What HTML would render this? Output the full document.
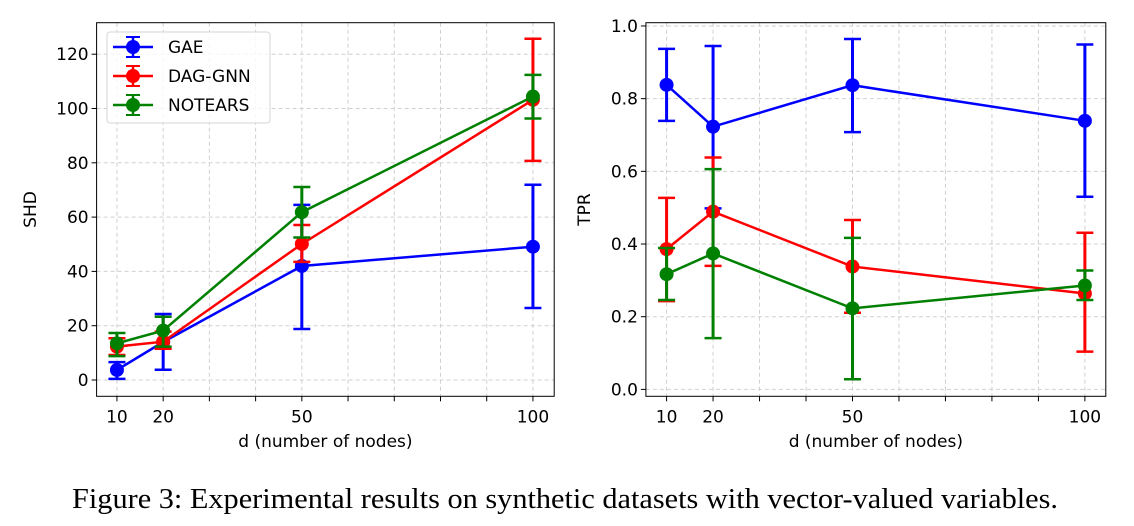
<!DOCTYPE html>
<html><head><meta charset="utf-8"><style>
html,body{margin:0;padding:0;background:#fff;}
svg{display:block;font-family:"DejaVu Sans","Liberation Sans",sans-serif;}
</style></head><body>
<svg id="fig" width="1134" height="526" viewBox="0 0 1134 526" xmlns="http://www.w3.org/2000/svg">
<text x="72" y="508" font-family="Liberation Serif, serif" font-size="28" textLength="986" lengthAdjust="spacingAndGlyphs">Figure 3: Experimental results on synthetic datasets with vector-valued variables.</text>
</svg>
<script>
const categories = [10, 20, 50, 100];
const seriesNames = ["GAE", "DAG-GNN", "NOTEARS"];
const shdGAE = [3.7, 14, 42, 49.1];
const shdGAELo = [0.4, 3.8, 18.8, 26.5];
const shdGAEHi = [6.6, 24.3, 64.5, 71.9];
const shdDAG = [12.3, 14.1, 50.1, 103.2];
const shdDAGLo = [9.2, 11.5, 43.5, 80.7];
const shdDAGHi = [15.4, 17.8, 57.1, 125.7];
const shdNT = [13.5, 18.2, 61.8, 104.4];
const shdNTLo = [8.8, 12.3, 52.5, 96.3];
const shdNTHi = [17.3, 23.3, 71.1, 112.4];
const tprGAE = [0.838, 0.723, 0.837, 0.739];
const tprGAELo = [0.739, 0.498, 0.708, 0.530];
const tprGAEHi = [0.937, 0.945, 0.964, 0.949];
const tprDAG = [0.386, 0.489, 0.338, 0.264];
const tprDAGLo = [0.243, 0.340, 0.211, 0.104];
const tprDAGHi = [0.527, 0.638, 0.466, 0.431];
const tprNT = [0.317, 0.374, 0.223, 0.286];
const tprNTLo = [0.246, 0.141, 0.028, 0.246];
const tprNTHi = [0.389, 0.606, 0.417, 0.327];
const shdTicks = [0, 20, 40, 60, 80, 100, 120];
const tprTicks = [0.0, 0.2, 0.4, 0.6, 0.8, 1.0];
const xMinor = [30, 40, 60, 70, 80, 90];

const NS = "http://www.w3.org/2000/svg";
const svg = document.getElementById("fig");
function mk(tag, attrs, parent, text) {
  const e = document.createElementNS(NS, tag);
  for (const k in attrs) e.setAttribute(k, attrs[k]);
  if (text !== undefined) e.textContent = text;
  (parent || svg).appendChild(e);
  return e;
}
const colors = ["#0000ff", "#ff0000", "#008000"];

function panel(p) {
  const g = mk("g", {});
  
  
  const xs = v => p.L + (v - p.xmin) / (p.xmax - p.xmin) * (p.R - p.L);
  const ys = v => p.B - (v - p.ymin) / (p.ymax - p.ymin) * (p.B - p.T);
  const gx = categories.concat(xMinor);
  gx.forEach(v => {
    const l = mk("line", {x1: xs(v), x2: xs(v), y1: p.T, y2: p.B, stroke: "#d0d0d0", "stroke-width": 1, "stroke-dasharray": "4,3"}, g);
    
    
    const t = mk("line", {x1: xs(v), x2: xs(v), y1: p.B, y2: p.B + 5, stroke: "#000", "stroke-width": 1}, g);
    
    
  });
  p.yt.forEach(v => {
    const l = mk("line", {x1: p.L, x2: p.R, y1: ys(v), y2: ys(v), stroke: "#d0d0d0", "stroke-width": 1, "stroke-dasharray": "4,3"}, g);
    
    
    const t = mk("line", {x1: p.L - 5, x2: p.L, y1: ys(v), y2: ys(v), stroke: "#000", "stroke-width": 1}, g);
    
    
    const tl = mk("text", {x: p.L - 8, y: ys(v) + 6, "text-anchor": "end", "font-size": 17}, g, p.fmt(v));
    
    
  });
  categories.forEach(v => {
    const tl = mk("text", {x: xs(v), y: p.B + 26, "text-anchor": "middle", "font-size": 17}, g, String(v));
    
    
  });
  p.series.forEach((s, si) => {
    const c = colors[si];
    const sg = mk("g", {}, g);
    
    
    categories.forEach((v, i) => {
      const x = xs(v);
      const e = mk("line", {x1: x, x2: x, y1: ys(s.lo[i]), y2: ys(s.hi[i]), stroke: c, "stroke-width": 3}, sg);
      
      
      [s.lo[i], s.hi[i]].forEach(yv => {
        const cap = mk("line", {x1: x - 8.5, x2: x + 8.5, y1: ys(yv), y2: ys(yv), stroke: c, "stroke-width": 2.5}, sg);
        
        
      });
    });
    const pts = categories.map((v, i) => xs(v) + "," + ys(s.v[i])).join(" ");
    const pl = mk("polyline", {points: pts, fill: "none", stroke: c, "stroke-width": 2.5}, sg);
    
    
    categories.forEach((v, i) => {
      const m = mk("circle", {cx: xs(v), cy: ys(s.v[i]), r: 7, fill: c}, sg);
      
      
    });
  });
  const box = mk("rect", {x: p.L, y: p.T, width: p.R - p.L, height: p.B - p.T, fill: "none", stroke: "#000", "stroke-width": 1}, g);
  
  
  const xl = mk("text", {x: (p.L + p.R) / 2, y: 447, "text-anchor": "middle", "font-size": 17}, g, "d (number of nodes)");
  
  
  const yl = mk("text", {x: p.ylx, y: (p.T + p.B) / 2, "text-anchor": "middle", "font-size": 17, transform: `rotate(-90 ${p.ylx} ${(p.T + p.B) / 2})`}, g, p.ylabel);
  
  
  return g;
}

panel({name: "shd-chart", L: 96.6, R: 554.2, T: 22.7, B: 396.3, xmin: 5.6, xmax: 104.6, ymin: -6, ymax: 131.6,
  yt: shdTicks, fmt: v => String(v), ylabel: "SHD", ylx: 36,
  series: [{v: shdGAE, lo: shdGAELo, hi: shdGAEHi}, {v: shdDAG, lo: shdDAGLo, hi: shdDAGHi}, {v: shdNT, lo: shdNTLo, hi: shdNTHi}]});
panel({name: "tpr-chart", L: 645.9, R: 1105.8, T: 22.7, B: 396.3, xmin: 5.55, xmax: 104.5, ymin: -0.019, ymax: 1.009,
  yt: tprTicks, fmt: v => v.toFixed(1), ylabel: "TPR", ylx: 590,
  series: [{v: tprGAE, lo: tprGAELo, hi: tprGAEHi}, {v: tprDAG, lo: tprDAGLo, hi: tprDAGHi}, {v: tprNT, lo: tprNTLo, hi: tprNTHi}]});

const lg = mk("g", {});


const lr = mk("rect", {x: 107, y: 32, width: 163, height: 91, rx: 3, fill: "#fff", "fill-opacity": 0.8, stroke: "#d6d6d6", "stroke-width": 1}, lg);


seriesNames.forEach((n, i) => {
  const y = 47 + i * 29;
  const c = colors[i];
  const eg = mk("g", {}, lg);
  
  
  mk("line", {x1: 113, x2: 153, y1: y, y2: y, stroke: c, "stroke-width": 2.5}, eg);
  mk("line", {x1: 133, x2: 133, y1: y - 10, y2: y + 10, stroke: c, "stroke-width": 2.5}, eg);
  mk("line", {x1: 126, x2: 140, y1: y - 10, y2: y - 10, stroke: c, "stroke-width": 2}, eg);
  mk("line", {x1: 126, x2: 140, y1: y + 10, y2: y + 10, stroke: c, "stroke-width": 2}, eg);
  mk("circle", {cx: 133, cy: y, r: 7, fill: c}, eg);
  mk("text", {x: 168, y: y + 6, "font-size": 17}, eg, n);
});
</script>
</body></html>
